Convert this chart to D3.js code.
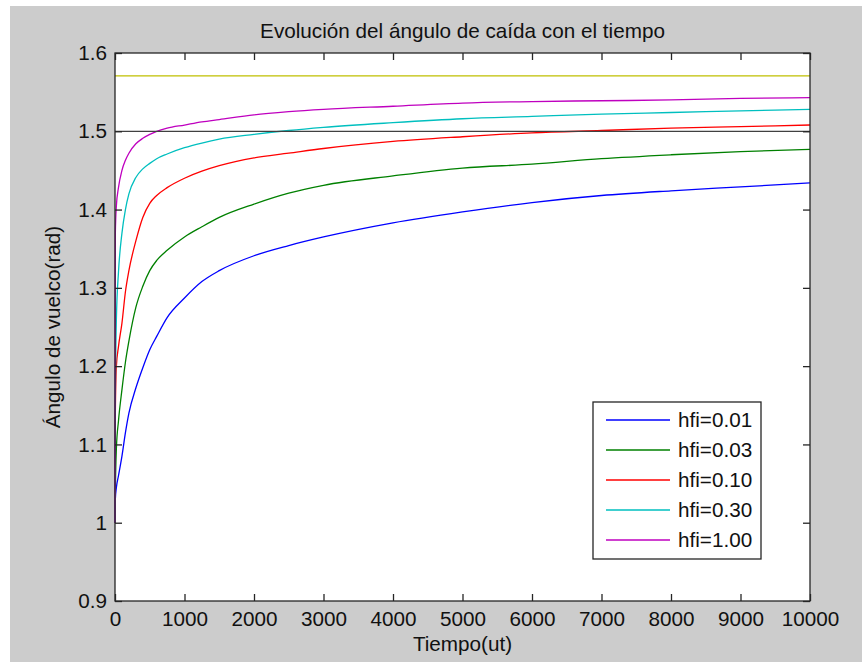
<!DOCTYPE html>
<html>
<head>
<meta charset="utf-8">
<script src="https://cdn.jsdelivr.net/npm/d3@7"></script>
<style>
    body { margin: 0; background: #ffffff; }
    text { font-family: Arial, "Liberation Sans", sans-serif; fill: #111111; }
</style>
</head>
<body>
<div id="chart"></div>
<script>
// Sample times (ut)
const times = [0, 5, 20, 50, 100, 150, 200, 300, 400, 500, 600, 750, 1000, 1250, 1500, 2000, 2500, 3000, 4000, 5000, 6000, 7000, 8000, 9000, 10000];

// Angle (rad) of each curve at those times
const hfi001 = [1.0, 1.03, 1.045, 1.06, 1.085, 1.115, 1.14, 1.172, 1.198, 1.221, 1.238, 1.262, 1.287, 1.308, 1.322, 1.341, 1.354, 1.365, 1.383, 1.397, 1.409, 1.418, 1.424, 1.429, 1.434];
const hfi003 = [1.0, 1.04, 1.095, 1.13, 1.17, 1.205, 1.232, 1.275, 1.302, 1.322, 1.335, 1.348, 1.365, 1.378, 1.390, 1.407, 1.421, 1.431, 1.443, 1.453, 1.458, 1.465, 1.470, 1.474, 1.477];
const hfi010 = [1.0, 1.14, 1.20, 1.225, 1.255, 1.295, 1.322, 1.36, 1.39, 1.408, 1.418, 1.428, 1.440, 1.449, 1.456, 1.466, 1.472, 1.478, 1.487, 1.493, 1.498, 1.501, 1.504, 1.506, 1.508];
const hfi030 = [1.0, 1.16, 1.26, 1.32, 1.37, 1.40, 1.42, 1.441, 1.452, 1.459, 1.465, 1.471, 1.479, 1.485, 1.490, 1.496, 1.501, 1.505, 1.511, 1.516, 1.519, 1.522, 1.524, 1.526, 1.528];
const hfi100 = [1.0, 1.37, 1.405, 1.428, 1.45, 1.463, 1.472, 1.484, 1.491, 1.496, 1.500, 1.504, 1.508, 1.512, 1.515, 1.521, 1.525, 1.528, 1.532, 1.536, 1.538, 1.539, 1.540, 1.542, 1.543];

const seriesNames = ["hfi=0.01", "hfi=0.03", "hfi=0.10", "hfi=0.30", "hfi=1.00"];
const seriesValues = [hfi001, hfi003, hfi010, hfi030, hfi100];
const seriesColors = ["#0000ff", "#008000", "#ff0000", "#00bfbf", "#bf00bf"];

// Horizontal reference levels (pi/2 and 1.5)
const refLevels = [Math.PI / 2, 1.5];
const refColors = ["#bfbf00", "#404040"];

const xTicks = [0, 1000, 2000, 3000, 4000, 5000, 6000, 7000, 8000, 9000, 10000];
const yTicks = [0.9, 1.0, 1.1, 1.2, 1.3, 1.4, 1.5, 1.6];
const yTickLabels = ["0.9", "1", "1.1", "1.2", "1.3", "1.4", "1.5", "1.6"];

const W = 862, H = 662;
const plot = { left: 115, right: 810, top: 53, bottom: 601 };

const svg = d3.select("#chart").append("svg")
    .attr("width", W)
    .attr("height", H);

// grey figure background
svg.append("rect")
    .attr("x", 10).attr("y", 6)
    .attr("width", W - 10).attr("height", H - 6)
    .attr("fill", "#cccccc");

svg.append("rect")
    .attr("x", plot.left).attr("y", plot.top)
    .attr("width", plot.right - plot.left).attr("height", plot.bottom - plot.top)
    .attr("fill", "#ffffff");

const x = d3.scaleLinear().domain([0, 10000]).range([plot.left, plot.right]);
const y = d3.scaleLinear().domain([0.9, 1.6]).range([plot.bottom, plot.top]);

const line = d3.line()
    .x(d => x(d.t))
    .y(d => y(d.v))
    .curve(d3.curveMonotoneX);

// curves
const curves = svg.append("g");
seriesValues.forEach((vals, i) => {
    curves.append("path")
        .datum(vals.map((v, j) => ({ t: times[j], v: v })))
        .attr("fill", "none")
        .attr("stroke", seriesColors[i])
        .attr("stroke-width", 1.3)
        .attr("d", line);
});

// reference lines drawn last, as in the original plot order
refLevels.forEach((lvl, i) => {
    svg.append("path")
        .datum([{ t: 0, v: lvl }, { t: 10000, v: lvl }])
        .attr("fill", "none")
        .attr("stroke", refColors[i])
        .attr("stroke-width", 1.3)
        .attr("d", line);
});

// axes, ticks pointing inward
const fontSize = "20.7px";
const xAxis = svg.append("g")
    .attr("transform", `translate(0, ${plot.bottom})`)
    .call(d3.axisBottom(x).tickValues(xTicks).tickSizeInner(-7).tickSizeOuter(0).tickPadding(10).tickFormat(d3.format("d")));
const xTop = svg.append("g")
    .attr("transform", `translate(0, ${plot.top})`)
    .call(d3.axisTop(x).tickValues(xTicks).tickSizeInner(-7).tickSizeOuter(0).tickFormat(""));
const yAxis = svg.append("g")
    .attr("transform", `translate(${plot.left}, 0)`)
    .call(d3.axisLeft(y).tickValues(yTicks).tickSizeInner(-7).tickSizeOuter(0).tickPadding(8)
        .tickFormat((d, i) => yTickLabels[i]));
const yRight = svg.append("g")
    .attr("transform", `translate(${plot.right}, 0)`)
    .call(d3.axisRight(y).tickValues(yTicks).tickSizeInner(-7).tickSizeOuter(0).tickFormat(""));

[xAxis, xTop, yAxis, yRight].forEach(g => {
    g.select(".domain").remove();
    g.selectAll("line").attr("stroke", "#262626").attr("stroke-width", 1.3);
    g.selectAll("text").style("font-size", fontSize).attr("fill", "#111111");
});

// axes box
svg.append("rect")
    .attr("x", plot.left).attr("y", plot.top)
    .attr("width", plot.right - plot.left).attr("height", plot.bottom - plot.top)
    .attr("fill", "none")
    .attr("stroke", "#262626")
    .attr("stroke-width", 1.3);

// title and axis labels
svg.append("text")
    .attr("x", (plot.left + plot.right) / 2)
    .attr("y", 38)
    .attr("text-anchor", "middle")
    .style("font-size", fontSize)
    .text("Evolución del ángulo de caída con el tiempo");

svg.append("text")
    .attr("x", (plot.left + plot.right) / 2)
    .attr("y", 651)
    .attr("text-anchor", "middle")
    .style("font-size", fontSize)
    .text("Tiempo(ut)");

svg.append("text")
    .attr("transform", `translate(60, ${(plot.top + plot.bottom) / 2}) rotate(-90)`)
    .attr("text-anchor", "middle")
    .style("font-size", fontSize)
    .text("Ángulo de vuelco(rad)");

// legend
const legend = svg.append("g");
legend.append("rect")
    .attr("x", 593).attr("y", 402)
    .attr("width", 168).attr("height", 157)
    .attr("fill", "#ffffff")
    .attr("stroke", "#262626")
    .attr("stroke-width", 1.3);

seriesNames.forEach((name, i) => {
    const ry = 420 + i * 30;
    legend.append("line")
        .attr("x1", 606).attr("x2", 670)
        .attr("y1", ry).attr("y2", ry)
        .attr("stroke", seriesColors[i])
        .attr("stroke-width", 1.3);
    legend.append("text")
        .attr("x", 678).attr("y", ry)
        .attr("dy", "0.35em")
        .style("font-size", fontSize)
        .text(name);
});
</script>
</body>
</html>
